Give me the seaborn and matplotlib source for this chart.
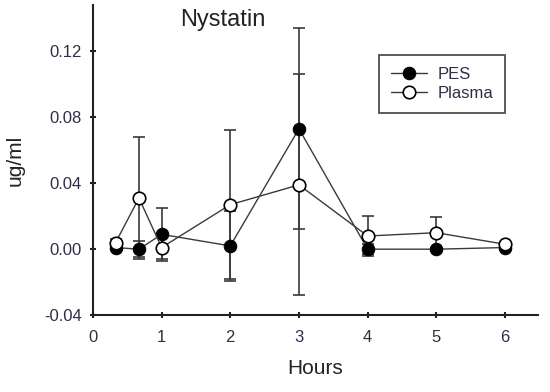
import matplotlib
matplotlib.use('Agg')
import matplotlib.pyplot as plt
import seaborn as sns
import numpy as np

sns.set_style("ticks")
plt.rcParams['font.family'] = ['Liberation Sans', 'DejaVu Sans']

hours = [0.33, 0.67, 1, 2, 3, 4, 5, 6]
pes_mean = [0.001, 0.000, 0.009, 0.002, 0.073, 0.000, 0.000, 0.001]
pes_err = [0.001, 0.005, 0.016, 0.021, 0.061, 0.003, 0.001, 0.001]
plasma_mean = [0.004, 0.031, 0.001, 0.027, 0.039, 0.008, 0.010, 0.003]
plasma_err = [0.002, 0.037, 0.007, 0.045, 0.067, 0.012, 0.0095, 0.001]

fig = plt.figure(figsize=(5.5, 3.92), dpi=100)
ax = fig.add_axes([0.169, 0.196, 0.809, 0.791])

line_c = '#3a3a3a'
tick_c = '#2e2e48'

# error bars first, under the markers
ax.errorbar(hours, pes_mean, yerr=pes_err, fmt='none', ecolor=line_c,
            elinewidth=1.2, capsize=4, capthick=1.2, zorder=1)
ax.errorbar(hours, plasma_mean, yerr=plasma_err, fmt='none', ecolor=line_c,
            elinewidth=1.2, capsize=4, capthick=1.2, zorder=1)

sns.lineplot(x=hours, y=pes_mean, ax=ax, color=line_c, linewidth=1.0,
             marker='o', markersize=9, markerfacecolor='black',
             markeredgecolor='black', label='PES', zorder=3)
sns.lineplot(x=hours, y=plasma_mean, ax=ax, color=line_c, linewidth=1.0,
             marker='o', markersize=9, markerfacecolor='white',
             markeredgecolor='black', markeredgewidth=1.2, label='Plasma', zorder=4)

ax.set_xlim(0, 6.48)
ax.set_ylim(-0.04, 0.148)
ax.set_xticks([0, 1, 2, 3, 4, 5, 6])
ax.set_yticks([-0.04, 0.00, 0.04, 0.08, 0.12])
ax.set_yticklabels(['-0.04', '0.00', '0.04', '0.08', '0.12'])

sns.despine(ax=ax)
for s in ['left', 'bottom']:
    ax.spines[s].set_linewidth(1.5)
    ax.spines[s].set_color('#222222')
ax.tick_params(axis='both', labelsize=12, colors='#222222', labelcolor=tick_c,
               width=1.5, length=4, direction='inout')
ax.tick_params(axis='x', pad=9)
ax.tick_params(axis='y', pad=6)

ax.set_xlabel('Hours', fontsize=15, color='#222222', labelpad=10)
ax.set_ylabel('ug/ml', fontsize=15, color='#222222', labelpad=14)
ax.text(1.89, 0.139, 'Nystatin', fontsize=17, color='#222222', ha='center', va='center')

leg = ax.legend(loc='upper left', bbox_to_anchor=(0.643, 0.839), borderaxespad=0,
                fontsize=12, frameon=True, fancybox=False, edgecolor='#222222',
                handlelength=2.2, handletextpad=0.6, borderpad=0.7,
                labelspacing=0.25)
leg.get_frame().set_linewidth(1.3)
for t in leg.get_texts():
    t.set_color(tick_c)

fig.savefig('out.png', dpi=100)
